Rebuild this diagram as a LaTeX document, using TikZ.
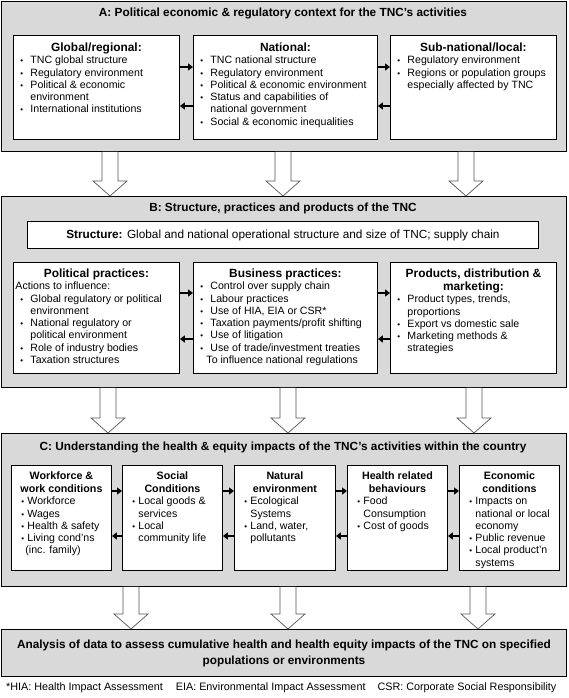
\documentclass[tikz,border=0pt]{standalone}
\usepackage{fontspec}
\setmainfont{Liberation Sans}
\usetikzlibrary{calc,arrows.meta}
\definecolor{panelgray}{RGB}{217,217,217}
\definecolor{hollowline}{RGB}{85,85,85}

\newlength\bulpre \newlength\bulind
\setlength\bulpre{7pt}\setlength\bulind{17pt}
\newcommand\bodyfont{\normalfont\fontsize{10.6}{12.3}\selectfont}
\newcommand\hdrfont{\fontsize{11.9}{13}\selectfont\bfseries}
\newcommand\chdrfont{\fontsize{10.7}{13}\selectfont\bfseries}
\newcommand\bul{{\fontsize{8}{8}\selectfont\textbullet}}
\newcommand\itm[1]{\par\hangindent=\bulind\hangafter=1\noindent\makebox[\bulind][l]{\hspace{\bulpre}\bul}#1}
\newcommand\pln[1]{\par\noindent\hspace{2pt}#1}
\newcommand\nl{\newline}

\tikzset{
  panel/.style={draw, fill=panelgray, line width=0.9pt, inner sep=0pt, anchor=north west},
  box/.style={draw, fill=white, line width=0.9pt, inner sep=0pt, anchor=north west},
  title/.style={inner sep=0pt, font=\fontsize{11.8}{13}\selectfont\bfseries},
  sarr/.style={line width=2pt, -{Triangle[length=5pt,width=7pt]}},
  hollowarr/.style={draw=hollowline, fill=white, line width=0.7pt, line join=miter}
}

\newcommand\hollow[3]{%
  \draw[hollowarr] let \p1=(#2.south), \p2=(#3.north) in
    (#1pt-8pt,\y1) -- (#1pt-8pt,\y2+15pt) -- (#1pt-17pt,\y2+15pt) -- (#1pt,\y2)
    -- (#1pt+17pt,\y2+15pt) -- (#1pt+8pt,\y2+15pt) -- (#1pt+8pt,\y1);}

\begin{document}
\begin{tikzpicture}[x=1pt,y=-1pt]
\useasboundingbox (0,0) rectangle (568,698);
\fill[white] (0,0) rectangle (568,698);

% ---------------- Panel A
\node[panel, minimum width=565pt, minimum height=150pt] (A) at (1,1) {};
\node[title] (At) at (283,13) {A: Political economic \& regulatory context for the TNC's activities};

\node[box] (glob) at (13,35) {\parbox[c][104pt][t]{166pt}{\centering\hdrfont\rule{0pt}{16pt}Global/regional:\par\bodyfont\raggedright
\itm{TNC global structure}
\itm{Regulatory environment}
\itm{Political \& economic\nl environment}
\itm{International institutions}}};

\node[box] (nat) at (193,35) {\parbox[c][104pt][t]{184pt}{\centering\hdrfont\rule{0pt}{16pt}National:\par\bodyfont\raggedright
\itm{TNC national structure}
\itm{Regulatory environment}
\itm{Political \& economic environment}
\itm{Status and capabilities of\nl national government}
\itm{Social \& economic inequalities}}};

\node[box] (sub) at (390,35) {\parbox[c][104pt][t]{166pt}{\centering\hdrfont\rule{0pt}{16pt}Sub-national/local:\par\bodyfont\raggedright
\itm{Regulatory environment}
\itm{Regions or population groups\nl especially affected by TNC}}};

\draw[sarr] ([yshift=-32pt]glob.north east) -- ([yshift=-32pt]nat.north west);
\draw[sarr] ([yshift=-71pt]nat.north west) -- ([yshift=-71pt]glob.north east);
\draw[sarr] ([yshift=-32pt]nat.north east) -- ([yshift=-32pt]sub.north west);
\draw[sarr] ([yshift=-71pt]sub.north west) -- ([yshift=-71pt]nat.north east);

% ---------------- Panel B
\node[panel, minimum width=565pt, minimum height=191pt] (B) at (1,196) {};
\node[title] (Bt) at (283,208) {B: Structure, practices and products of the TNC};

\node[box, minimum width=511pt, minimum height=27pt, font=\fontsize{11.8}{13}\selectfont] (str) at (27,221) {\textbf{Structure:} Global and national operational structure and size of TNC; supply chain};

\node[box] (pol) at (13,262) {\parbox[c][111pt][t]{166pt}{\centering\hdrfont\rule{0pt}{15pt}Political practices:\par\bodyfont\raggedright
\pln{Actions to influence:}
\itm{Global regulatory or political\nl environment}
\itm{National regulatory or\nl political environment}
\itm{Role of industry bodies}
\itm{Taxation structures}}};

\node[box] (bus) at (193,262) {\parbox[c][111pt][t]{184pt}{\centering\hdrfont\rule{0pt}{15pt}Business practices:\par\bodyfont\raggedright
\itm{Control over supply chain}
\itm{Labour practices}
\itm{Use of HIA, EIA or CSR*}
\itm{Taxation payments/profit shifting}
\itm{Use of litigation}
\itm{Use of trade/investment treaties\nl\hspace*{-4pt}To influence national regulations}}};

\node[box] (prod) at (390,262) {\parbox[c][111pt][t]{166pt}{\centering\hdrfont\rule{0pt}{15pt}Products, distribution \&\\marketing:\par\bodyfont\raggedright
\itm{Product types, trends,\nl proportions}
\itm{Export vs domestic sale}
\itm{Marketing methods \&\nl strategies}}};

\draw[sarr] ([yshift=-31pt]pol.north east) -- ([yshift=-31pt]bus.north west);
\draw[sarr] ([yshift=-77pt]bus.north west) -- ([yshift=-77pt]pol.north east);
\draw[sarr] ([yshift=-31pt]bus.north east) -- ([yshift=-31pt]prod.north west);
\draw[sarr] ([yshift=-77pt]prod.north west) -- ([yshift=-77pt]bus.north east);

% ---------------- Panel C
\node[panel, minimum width=565pt, minimum height=153pt] (C) at (1,433) {};
\node[title] (Ct) at (283,447) {C: Understanding the health \& equity impacts of the TNC's activities within the country};

\setlength\bulpre{10pt}\setlength\bulind{16pt}
\node[box] (wf) at (11,465) {\parbox[c][105pt][t]{100pt}{\centering\chdrfont\rule{0pt}{14pt}Workforce \&\\work conditions\par\bodyfont\raggedright
\itm{Workforce}
\itm{Wages}
\itm{Health \& safety}
\itm{Living cond'ns\nl\hspace*{-2pt}(inc. family)}}};

\node[box] (soc) at (122,465) {\parbox[c][105pt][t]{100pt}{\centering\chdrfont\rule{0pt}{14pt}Social\\Conditions\par\bodyfont\raggedright
\itm{Local goods \&\nl services}
\itm{Local\nl community life}}};

\node[box] (natenv) at (234,465) {\parbox[c][105pt][t]{101pt}{\centering\chdrfont\rule{0pt}{14pt}Natural\\environment\par\bodyfont\raggedright
\itm{Ecological\nl Systems}
\itm{Land, water,\nl pollutants}}};

\node[box] (hb) at (347,465) {\parbox[c][105pt][t]{100pt}{\centering\chdrfont\rule{0pt}{14pt}Health related\\behaviours\par\bodyfont\raggedright
\itm{Food\nl Consumption}
\itm{Cost of goods}}};

\node[box] (eco) at (459,465) {\parbox[c][105pt][t]{100pt}{\centering\chdrfont\rule{0pt}{14pt}Economic\\conditions\par\bodyfont\raggedright
\itm{Impacts on\nl national or local\nl economy}
\itm{Public revenue}
\itm{Local product'n\nl systems}}};

\foreach \l/\r in {wf/soc, soc/natenv, natenv/hb, hb/eco}{
  \draw[sarr] ([yshift=-26pt]\l.north east) -- ([yshift=-26pt]\r.north west);
  \draw[sarr] ([yshift=-71pt]\r.north west) -- ([yshift=-71pt]\l.north east);
}

% ---------------- Panel D
\node[panel, minimum width=565pt, minimum height=47pt, align=center, font=\fontsize{11.8}{16}\selectfont\bfseries] (D) at (1,629) {Analysis of data to assess cumulative health and health equity impacts of the TNC on specified\\populations or environments};

% ---------------- hollow arrows
\hollow{110}{A}{B}
\hollow{283}{A}{B}
\hollow{466}{A}{B}
\hollow{108}{B}{C}
\hollow{288}{B}{C}
\hollow{474}{B}{C}
\hollow{131}{C}{D}
\hollow{288}{C}{D}
\hollow{478}{C}{D}

% ---------------- footnote
\node[anchor=west, inner sep=0pt, font=\fontsize{10.8}{12}\selectfont] (fn) at (6,688) {*HIA: Health Impact Assessment\hspace{13pt}EIA: Environmental Impact Assessment\hspace{12pt}CSR: Corporate Social Responsibility};
\end{tikzpicture}
\end{document}
